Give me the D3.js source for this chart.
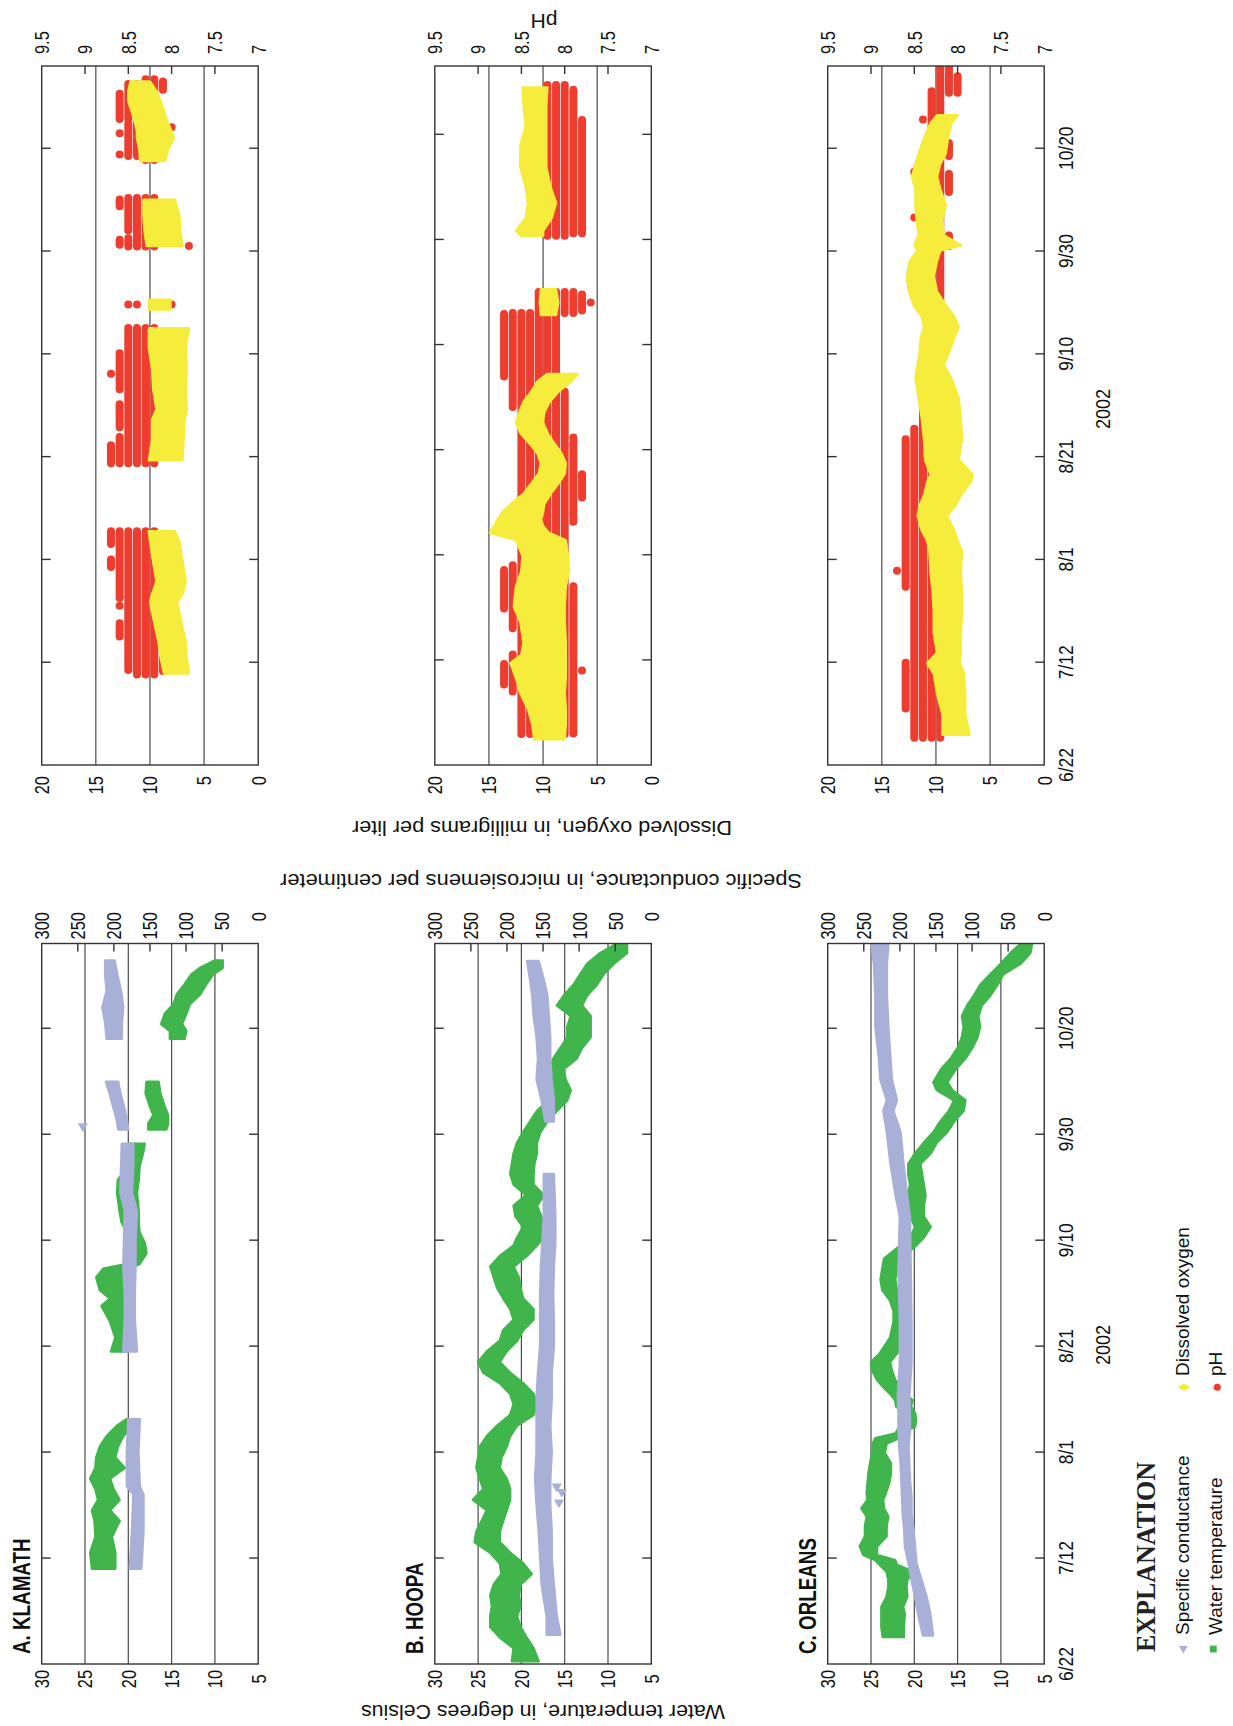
<!DOCTYPE html>
<html><head><meta charset="utf-8">
<script src="https://cdn.jsdelivr.net/npm/d3@7"></script>
<style>body{margin:0;background:#fff}svg{display:block}</style>
</head><body>
<svg id="c" width="1233" height="1726"></svg>
<script>
// ---------- DATA (days after 6/22/2002) ----------
const tickDays = [0,20,40,60,80,100,120];
const tickLabels = ["6/22","7/12","8/1","8/21","9/10","9/30","10/20"];
const yearLabel = "2002";
const panelNames = ["A. KLAMATH","B. HOOPA","C. ORLEANS"];
const tempTicks = [30,25,20,15,10,5];
const condTicks = [300,250,200,150,100,50,0];
const doTicks = [20,15,10,5,0];
const phTicks = [9.5,9,8.5,8,7.5,7];
const phTickLabels = ["9.5","9","8.5","8","7.5","7"];

// water temperature bands [day, low, high]
const klamathTemp = [[18,21.5,24.2],[21,21.5,24.4],[24,21.9,23.8],[27,21.0,23.9],[29,22.1,24.2],[31,21.0,23.5],[33,21.7,23.8],[35,22.1,24.4],[37,20.4,23.8],[39,21.5,23.7],[41,21.2,23.3],[43,20.6,22.5],[45,19.4,21.3],[46.2,19.0,20.2],null,
 [59,20.0,22.0],[61.6,20.2,21.5],[64.6,20.4,22.1],[67.6,20.4,23.1],[69,20.6,22.1],[70.6,20.2,23.3],[73,20.6,23.7],[74.6,20.0,22.9],[75.5,18.7,20.2],[77.5,17.9,19.4],[79.5,18.1,19.6],[81.5,18.7,20.2],[83.5,18.8,20.8],[85.5,18.8,21.0],[89,19.0,21.3],[91.4,18.8,21.2],[93.9,18.7,20.0],[96.4,18.3,19.8],[98.2,18.1,19.8],null,
 [100.9,15.6,17.7],[102,15.4,17.7],[103.6,15.4,17.1],[105.2,15.8,17.5],[107.7,16.3,18.0],[109.9,16.5,17.9],null,
 [118,13.5,15.2],[119.5,13.3,15.2],[120.8,13.8,16.2],[122.7,13.3,15.8],[124.5,12.9,14.8],[126.4,11.7,14.4],[128.3,11.0,13.5],[130.2,10.2,12.7],[131.4,9.1,11.7],[132.8,9.1,10.0]];
const hoopaTemp = [[0.5,18.0,21.1],[3,18.6,20.9],[5,19.4,22.5],[7,20.1,23.6],[9,20.5,23.6],[11,20.1,23.4],[13,20.3,23.6],[15,20.1,23.2],[17,18.8,22.3],[19,19.8,22.5],[21,21.3,23.6],[23,22.5,25.4],[25,22.5,25.2],[27,22.1,24.6],[29,21.7,24.0],[31,21.3,25.6],[33,21.3,24.4],[35,21.7,24.8],[37,22.5,25.2],[39,22.3,25.0],[41,21.7,24.8],[43,21.3,24.0],[45,20.5,22.8],[47,18.6,21.3],[49,18.2,20.9],[51,18.6,21.3],[53,19.8,22.5],[55,21.3,24.4],[57,22.5,25.0],[59,21.7,24.0],[61,20.5,22.5],[63,19.8,22.1],[65,18.6,20.9],[67,18.6,21.3],[69,19.8,22.1],[71,20.1,22.8],[73,20.3,23.2],[75,20.9,23.6],[77,19.4,22.5],[79,18.2,20.9],[80.5,17.4,20.5],[82.5,17.4,19.8],[84.5,17.7,20.7],[86.5,18.2,20.9],[88.5,17.4,19.5],[90.5,18.6,20.9],[92.5,18.6,21.3],[94.4,18.5,21.1],[96.4,18.2,20.9],[98.4,18.2,20.5],[100.4,17.8,19.8],[102.4,17.0,19.0],[104.4,15.9,18.2],[106.4,14.7,16.9],[108.3,14.3,16.1],[110.3,14.9,16.7],[112.3,15.1,16.9],[114.3,13.6,16.3],[116.3,13.0,15.5],[118.3,12.0,14.7],[120.3,12.0,14.7],[122.3,12.0,14.3],[124.3,13.0,15.9],[126.2,12.4,15.1],[128.2,11.3,14.0],[130.2,10.5,13.2],[132.2,9.3,12.4],[134.2,7.8,10.9],[135.7,7.8,9.3]];
const orleansTemp = [[5.1,21.2,23.65],[7,21.2,23.8],[9.5,21.1,23.8],[10.8,21.3,23.8],[12.7,20.8,23.2],[14.6,20.9,23.0],[15.9,20.8,23.0],[17.4,20.0,23.2],[18.7,22.0,24.0],[19.6,22.2,24.5],[20.6,24.3,25.9],[22.2,24.3,26.3],[24.1,23.2,25.7],[26,23.2,25.7],[27.8,23.0,25.5],[29.4,23.5,26.1],[31,23.6,25.4],[32.2,23.3,25.5],[34.1,22.9,25.4],[36,22.7,25.3],[37.9,22.7,25.1],[39.8,23.4,24.9],[41.6,23.2,24.8],[42.6,21.8,24.5],[43.5,21.6,22.2],[44.8,19.9,21.7],[46.1,19.8,21.3],[47.3,19.9,21.1],[48.6,20.4,22.1],[49.8,20.2,22.2],[51,21.1,22.8],[52.3,21.6,23.6],[53.6,22.2,24.3],[55.5,22.6,24.9],[57,22.8,25.0],[58.6,22.0,24.0],[61.6,21.0,22.8],[64.6,20.8,22.4],[66.6,21.0,22.4],[68.6,21.6,22.8],[70.6,22.0,23.7],[72.6,22.2,23.9],[74.6,22.0,23.7],[76.5,22.0,23.5],[78.5,20.1,22.0],[80.5,18.9,20.5],[82.5,18.1,19.9],[84.5,18.9,20.5],[86.5,18.9,20.7],[88.5,18.7,20.7],[90.5,18.9,20.5],[92.4,19.1,20.7],[94.4,19.3,20.7],[96.4,18.1,19.9],[98.4,17.4,18.9],[100.4,16.2,17.8],[102.4,15.4,17.0],[104.4,14.3,16.0],[106.4,14.1,15.4],[108.3,15.6,17.4],[109.8,16.2,17.8],[112.3,15.2,16.9],[114.3,14.1,15.8],[116.3,13.3,15.0],[118.3,12.7,14.5],[120.3,12.4,14.3],[122.3,12.6,14.5],[124.3,12.2,13.9],[126.2,11.2,13.1],[128.2,10.4,12.4],[130.2,9.7,11.2],[132.2,7.7,10.0],[134.2,6.6,8.9],[136,6.4,7.7]];

// specific conductance bands [day, low, high]
const klamathCond = [[18,162,178],[25,159,175],[32,159,173],[33.5,164,182],[40,166,182],[46.2,164,180],null,
 [59,168,187],[65,171,185],[70,171,185],[75,170,187],[80,170,186],[85.5,168,185],[89,175,191],[94,173,190],[98.2,173,189],null,
 [100.9,180,194],[102.7,182,196],[105.2,186,201],[107.7,191,206],[109.9,194,211],null,
 [118,189,210],[121,189,212],[124,187,216],[127,190,210],[130,195,212],[132.8,199,212]];
const hoopaCond = [[5.5,126,145],[9,131,145],[15,135,152],[20,138,154],[25,138,156],[30,140,159],[35,140,161],[40,138,159],[45,140,159],[50,138,159],[55,138,157],[60,135,154],[65,135,154],[70,136,154],[75,135,153],[79.5,133,151],[84.5,133,149],[92.5,135,149],null,
 [102.4,135,147],[106.4,135,152],[110.3,138,159],[114.3,140,157],[118.3,140,159],[122.3,142,163],[126.2,144,165],[129.2,149,168],[132.7,156,172]];
const orleansCond = [[5.4,154,168],[9.6,158,175],[12.7,163,179],[15.9,170,184],[19,177,188],[22.2,179,193],[25.3,181,194],[28.4,184,196],[31.6,184,197],[34.7,186,198],[37.9,187,199],[41,188,201],[44.2,186,202],[47.3,186,202],[50.4,187,203],[56.7,184,200],[64.6,184,200],[74.6,185,202],[84.5,186,200],[88.5,190,206],[94.4,195,213],[100.4,199,218],[104.4,209,223],[106.4,204,218],[110.3,211,227],[114.3,213,229],[120.3,216,234],[126.2,218,234],[132.2,218,236],[135.7,216,239]];
// isolated conductance readings [day, value]
const klamathCondOut = [[101.5,243]];
const hoopaCondOut = [[30.5,128],[32.5,124],[33.5,131]];
const orleansCondOut = [];

// dissolved oxygen bands [day, low, high]
const klamathDO = [[17.8,6.4,8.7],[20.8,6.6,9.0],[23.8,6.7,9.2],[26.8,7.0,9.5],[29.7,7.3,9.8],[31.7,7.5,10.0],[33.2,7.0,9.8],[35.7,6.7,9.4],[39.6,7.0,9.7],[43.6,7.3,10.0],[45.5,7.7,10.1],null,
 [59.3,7.0,10.1],[63.3,6.9,9.8],[67.2,6.8,9.8],[69.2,6.6,9.4],[73.2,6.7,9.7],[77.1,6.6,9.8],[81.1,6.7,10.1],[85,6.4,10.1],null,
 [88.6,8.1,10.1],[90.5,8.1,10.1],null,
 [101,7.0,10.3],[103.9,7.2,10.5],[107.1,7.3,10.6],[110,7.7,10.6],null,
 [117.5,8.6,10.9],[120,8.3,11.0],[122,7.8,11.2],[123.3,8.0,11.2],[125.2,8.4,11.4],[127.2,8.7,11.7],[129.1,9.0,12.0],[131.1,9.4,12.0],[133,10.0,11.8]];
const hoopaDO = [[4.9,8.0,10.8],[7.8,7.9,11.0],[10.7,7.9,11.4],[13.6,8.0,12.1],[16.5,7.9,12.5],[19.4,7.9,13.0],[21,7.9,12.0],[23.3,7.9,11.8],[27.2,8.0,12.1],[30.1,8.0,12.7],[34,7.9,12.5],[36.9,7.6,12.0],[39.8,7.7,11.9],[42.8,7.9,12.5],[44.2,9.5,14.9],[45.5,10.0,14.5],[46.7,10.2,14.2],[48,10.0,13.8],[49.6,9.9,13.0],[51.6,9.3,11.8],[53.5,8.6,11.1],[55.4,8.0,10.4],[57.4,7.9,10.2],[59.3,8.3,10.5],[61.3,9.0,11.3],[63.2,9.6,12.1],[65.2,10.0,12.5],[67.1,9.9,12.2],[69.1,9.4,11.8],[71,8.6,11.1],[73,7.4,10.5],[74.4,6.8,9.6],null,
 [85.6,8.8,10.2],[88,8.6,10.3],[90.5,8.8,10.2],null,
 [100.7,10.0,12.0],[101.6,10.0,12.5],[104.1,9.2,11.6],[107,8.8,11.4],[109.9,9.3,11.6],[113.8,9.7,12.1],[117.7,9.7,12.1],[121.6,9.7,11.6],[125.5,9.7,11.8],[128.9,9.6,11.9]];
const orleansDO = [[5.9,6.9,9.4],[9.9,7.3,9.4],[13.9,7.3,9.9],[17.8,7.4,10.2],[19.8,7.8,10.8],[21.8,7.7,9.9],[25.7,7.7,10.2],[29.7,7.6,10.2],[33.6,7.6,10.3],[37.6,7.7,10.5],[41.6,7.6,10.6],[43.6,8.0,10.8],[45.6,8.3,11.3],[48.5,9.0,11.7],[50.5,8.2,11.5],[52.5,7.7,11.1],[55,6.8,10.8],[56.5,6.6,10.5],[59.4,7.9,11.0],[63.4,7.6,11.1],[67.3,7.7,11.3],[71.3,7.9,11.6],[75.3,8.6,11.9],[77.8,9.3,11.7],[80.3,8.8,11.5],[83.2,8.3,11.4],[85.2,7.9,11.1],[87.2,8.3,11.3],[89.2,9.0,12.0],[92.1,9.9,12.5],[95.1,10.2,12.7],[98.1,9.9,12.4],[100.1,9.6,11.7],[101.1,7.7,12.0],[103.1,9.3,11.6],[106.1,9.4,11.8],[109,9.1,11.9],[112,9.6,11.9],[114.5,9.9,12.2],[117,9.6,11.9],[118.9,9.1,11.6],[121.9,8.9,11.1],[124.9,8.6,10.5],[126.4,8.0,9.9]];

// pH readings (0.1 resolution) as runs [pH, first day, last day]
const klamathPH = [[8.7,38.5,40],[8.7,43,45.5],[8.6,25,27.6],[8.6,31,31],[8.6,32.5,45.5],[8.5,18.5,45.5],[8.4,17.6,45.5],[8.3,17.6,45.5],[8.2,17.6,45.5],[8.1,18.3,24],
 [8.7,58.7,62.2],[8.7,76.1,76.1],[8.6,58.7,63.8],[8.6,65.7,70.2],[8.6,73.1,80.1],[8.5,58.7,85],[8.4,58.7,85],[8.3,58.7,85],[8.2,58.7,85],[8.1,62.5,69],
 [8.5,89.6,89.6],[8.4,89.6,89.6],[8.0,89.6,89.6],
 [8.6,101.2,102.2],[8.6,108.7,110],[8.5,100.9,102.5],[8.5,104,110.3],[8.4,100.9,110.3],[8.3,100.9,110.3],[8.2,100.9,110.3],[7.8,101,101],
 [8.6,118.8,118.8],[8.6,122.9,122.9],[8.6,125.7,130.6],[8.5,118.5,124.7],[8.5,125.7,132.5],[8.4,118.5,132.5],[8.3,117.7,133.4],[8.2,117.7,133.4],[8.1,131.4,133],[8.0,124.1,124.1]];
const hoopaPH = [[8.7,15.3,19.2],[8.7,29.8,37.1],[8.7,73.9,85.8],[8.6,14,21],[8.6,26,38],[8.6,68.1,86],
 [8.5,5.9,86],[8.4,5.9,86],[8.3,5.9,86],[8.2,5.9,86],[8.1,5.9,86],[8.0,5.9,71],[7.9,6,34],[7.9,46.3,62.3],[7.8,50.9,55.3],[7.8,18,18],
 [8.3,86,90],[8.2,86,90],[8.1,86,90],[8.0,86,90],[7.9,86,90],[7.8,86.5,89.5],[7.7,88,88],
 [8.2,100.7,129.4],[8.1,100.7,129.4],[8.0,100.7,129.4],[7.9,101.2,128.5],[7.8,101.2,122.7]];
const orleansPH = [[8.7,37.8,37.8],[8.6,11,19.9],[8.6,34.7,63.4],[8.5,5.3,65.4],[8.5,106.5,106.5],[8.5,115.4,115.4],
 [8.4,5.3,79.6],[8.4,91,92],[8.4,101,102],[8.4,125.6,125.6],[8.3,5.3,131.1],[8.2,5.3,136],
 [8.1,101,103],[8.1,111.5,115],[8.1,118.5,121],[8.1,130.8,136],[8.0,130.8,134]];

const tempSeries = [klamathTemp, hoopaTemp, orleansTemp];
const condSeries = [klamathCond, hoopaCond, orleansCond];
const condOutliers = [klamathCondOut, hoopaCondOut, orleansCondOut];
const doSeries = [klamathDO, hoopaDO, orleansDO];
const phSeries = [klamathPH, hoopaPH, orleansPH];
const tempEndDay = 136;
const doEndDay = [136, 133, 136];

const legendItems = [
  {label:"Specific conductance", key:"cond"},
  {label:"Water temperature", key:"temp"},
  {label:"Dissolved oxygen", key:"do"},
  {label:"pH", key:"ph"}
];

// ---------- STYLE / LAYOUT ----------
const GREEN="#3fb54b", LAV="#a8b0d8", YEL="#f5ec3c", RED="#ee3d2f", INK="#333", GRID="#4a4a4a";
const FONT="'Liberation Sans', Arial, Helvetica, sans-serif";
const W=1726;
const panelTop=[41.7,434.8,827.7], PH=216.5;
const tempX=[62,782.5], doX=[961,1660];

const start = Date.UTC(2002,5,22);
const day = d => new Date(start + d*864e5);

const svg = d3.select("#c");
svg.append("rect").attr("width",1233).attr("height",1726).attr("fill","#fff");
const root = svg.append("g").attr("transform",`translate(0,${W}) rotate(-90)`);

function band(g, data, x, y, color){
  const area = d3.area().defined(d=>d!==null)
    .x(d=>x(day(d[0]))).y0(d=>y(d[1])).y1(d=>y(d[2]));
  g.append("path").datum(data).attr("d",area).attr("fill",color)
    .attr("stroke",color).attr("stroke-width",2.5).attr("stroke-linejoin","round");
}

function frame(x, y, gridVals, yR, rTicks, clipId, drawData){
  const g = root.append("g");
  const [x0,x1]=x.range(), [b,t]=y.range();
  g.append("clipPath").attr("id",clipId).append("rect")
    .attr("x",x0).attr("y",t).attr("width",x1-x0).attr("height",b-t);
  g.selectAll(null).data(gridVals).join("line")
    .attr("x1",x0).attr("x2",x1).attr("y1",v=>y(v)).attr("y2",v=>y(v))
    .attr("stroke",GRID).attr("stroke-width",1.2);
  drawData(g.append("g").attr("clip-path",`url(#${clipId})`));
  g.append("rect").attr("x",x0).attr("y",t).attr("width",x1-x0).attr("height",b-t)
    .attr("fill","none").attr("stroke",INK).attr("stroke-width",1.4);
  const td = tickDays.filter(d=>d>0).map(d=>x(day(d)));
  g.selectAll(null).data(td).join("line").attr("x1",d=>d).attr("x2",d=>d)
    .attr("y1",t).attr("y2",t+9).attr("stroke",INK).attr("stroke-width",1.4);
  g.selectAll(null).data(td).join("line").attr("x1",d=>d).attr("x2",d=>d)
    .attr("y1",b).attr("y2",b-9).attr("stroke",INK).attr("stroke-width",1.4);
  g.selectAll(null).data(rTicks).join("line").attr("x1",x1).attr("x2",x1-8)
    .attr("y1",v=>yR(v)).attr("y2",v=>yR(v)).attr("stroke",INK).attr("stroke-width",1.4);
  return g;
}

const condense = [];
function label(g, x, y, txt, opts){
  const t = g.append("text").attr("x",x).attr("y",y).text(txt)
    .attr("font-family",FONT).attr("font-size",opts.size||20.5)
    .attr("font-weight",opts.bold?"bold":"normal")
    .attr("text-anchor",opts.anchor||"start").attr("fill","#111");
  if(opts.dy) t.attr("dy",opts.dy);
  if(opts.ratio) condense.push([t,opts.ratio]);
  if(opts.len) t.attr("textLength",opts.len).attr("lengthAdjust","spacingAndGlyphs");
  if(opts.rot) t.attr("transform",`rotate(-90,${x},${y})`);
  return t;
}

for(let i=0;i<3;i++){
  const top=panelTop[i], bot=top+PH;
  // ---- water temperature / specific conductance
  const xT=d3.scaleTime().domain([day(0),day(tempEndDay)]).range(tempX);
  const yT=d3.scaleLinear().domain([5,30]).range([bot,top]);
  const yC=d3.scaleLinear().domain([0,300]).range([bot,top]);
  const gT=frame(xT,yT,tempTicks.filter(v=>v>5&&v<30),yC,condTicks.filter(v=>v>0&&v<300),"clipT"+i,g=>{
    band(g,tempSeries[i],xT,yT,GREEN);
    band(g,condSeries[i],xT,yC,LAV);
    g.selectAll(null).data(condOutliers[i]).join("path")
      .attr("d",d3.symbol(d3.symbolTriangle,45))
      .attr("transform",d=>`translate(${xT(day(d[0]))},${yC(d[1])}) rotate(-90)`).attr("fill",LAV);
  });
  tempTicks.forEach(v=>label(gT,47,yT(v),String(v),{anchor:"middle",dy:"0.36em",ratio:0.8}));
  condTicks.forEach(v=>label(gT,814,yC(v),String(v),{anchor:"end",dy:"0.36em",ratio:0.8}));
  label(gT,72,top-12,panelNames[i],{bold:true,size:23.5,ratio:0.8});

  // ---- dissolved oxygen / pH
  const xD=d3.scaleTime().domain([day(0),day(doEndDay[i])]).range(doX);
  const yD=d3.scaleLinear().domain([0,20]).range([bot,top]);
  const yP=d3.scaleLinear().domain([7,9.5]).range([bot,top]);
  const gD=frame(xD,yD,doTicks.filter(v=>v>0&&v<20),yP,phTicks.filter(v=>v>7&&v<9.5),"clipD"+i,g=>{
    g.selectAll(null).data(phSeries[i]).join("line")
      .attr("x1",r=>xD(day(r[1]))).attr("x2",r=>xD(day(r[2]))+0.01)
      .attr("y1",r=>yP(r[0])).attr("y2",r=>yP(r[0]))
      .attr("stroke",RED).attr("stroke-width",8).attr("stroke-linecap","round");
    band(g,doSeries[i],xD,yD,YEL);
  });
  doTicks.forEach(v=>label(gD,950,yD(v),String(v),{anchor:"end",dy:"0.36em",ratio:0.8}));
  phTicks.forEach((v,k)=>label(gD,1672,yP(v),phTickLabels[k],{anchor:"start",dy:"0.36em",ratio:0.8}));

  if(i===2){
    tickDays.forEach((d,k)=>{
      label(gT,xT(day(d)),1073,tickLabels[k],{anchor:"middle",ratio:0.85});
      label(gD,xD(day(d)),1073,tickLabels[k],{anchor:"middle",ratio:0.85});
    });
    label(gT,381,1110,yearLabel,{anchor:"middle",size:21,ratio:0.86});
    label(gD,1317,1110,yearLabel,{anchor:"middle",size:21,ratio:0.86});
  }
}

// axis titles
const gA=root.append("g");
label(gA,21.5,543,"Water temperature, in degrees Celsius",{anchor:"middle",size:20,rot:true,len:364});
label(gA,852,541,"Specific conductance, in microsiemens per centimeter",{anchor:"middle",size:20,rot:true,len:522});
label(gA,905,542,"Dissolved oxygen, in milligrams per liter",{anchor:"middle",size:20,rot:true,len:380});
label(gA,1712,544,"pH",{anchor:"middle",size:21,rot:true});

// explanation
const gL=root.append("g");
gL.append("text").attr("x",74).attr("y",1155).text("EXPLANATION")
  .attr("font-family","'Liberation Serif','Times New Roman',serif").attr("font-weight","bold")
  .attr("font-size",27).attr("textLength",190).attr("lengthAdjust","spacingAndGlyphs").attr("fill","#222");
const legPos = {cond:[77.5,1183.3,91,1188.6], temp:[77,1213.3,91,1221.6], do:[338.7,1184,350,1188.6], ph:[338.7,1217.3,350,1221.6]};
legendItems.forEach(it=>{
  const p=legPos[it.key];
  let sym, col, size;
  if(it.key==="cond"){sym=d3.symbolTriangle;col=LAV;size=34;}
  if(it.key==="temp"){sym=d3.symbolSquare;col=GREEN;size=46;}
  if(it.key==="do"){sym=d3.symbolDiamond;col=YEL;size=48;}
  if(it.key==="ph"){sym=d3.symbolCircle;col=RED;size=40;}
  gL.append("path").attr("d",d3.symbol(sym,size)).attr("fill",col)
    .attr("transform",`translate(${p[0]},${p[1]})`+(it.key==="cond"?" rotate(-90)":""));
  label(gL,p[2],p[3],it.label,{size:19});
});

// condense narrow-font labels
condense.forEach(([t,r])=>{
  const L=t.node().getComputedTextLength();
  t.attr("textLength",L*r).attr("lengthAdjust","spacingAndGlyphs");
});
</script>
</body></html>
